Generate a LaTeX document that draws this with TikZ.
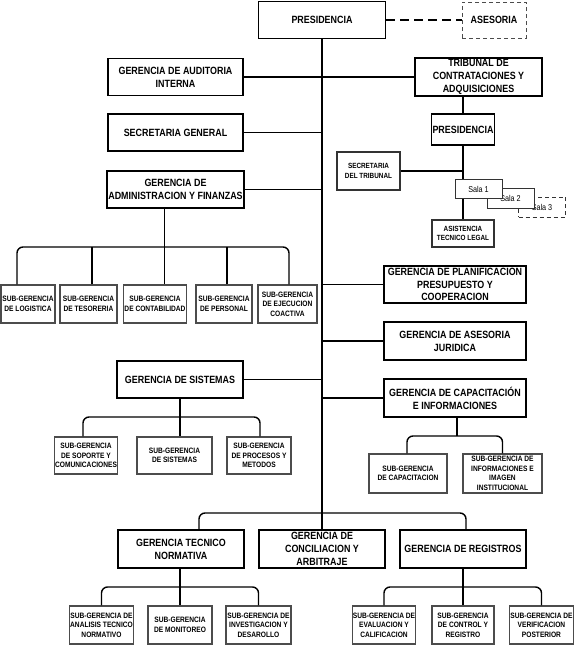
\documentclass[tikz,border=0pt]{standalone}
\usepackage{fontspec}
\setmainfont{Liberation Sans}[FakeStretch=0.85]
\usetikzlibrary{positioning,calc}

\begin{document}
\begin{tikzpicture}[
    x=1pt, y=-1pt,
    wh/.style 2 args={minimum width=#1pt, minimum height=#2pt},
    gerencia/.style={rectangle, draw, line width=1.7pt, fill=white, align=center, inner sep=1pt, font=\bfseries\fontsize{10.5}{12.8}\selectfont},
    tribox/.style={rectangle, draw=black!80, line width=1.2pt, fill=white, align=center, inner sep=1pt, font=\bfseries\fontsize{7.5}{9.7}\selectfont},
    salabox/.style={rectangle, draw=black!80, line width=1pt, fill=white, align=center, inner sep=1pt, font=\fontsize{8.5}{9}\selectfont},
    subger/.style={rectangle, draw=black!70, line width=1.1pt, fill=white, align=center, inner sep=0.5pt, font=\bfseries\fontsize{7.8}{9.6}\selectfont},
    line/.style={line width=1.4pt},
    bus/.style={line width=1.4pt, rounded corners=6pt},
    dashline/.style={line width=1.4pt, dash pattern=on 9pt off 5pt}
]
    \useasboundingbox (0,0) rectangle (574,645);

    % Top
    \node[gerencia, wh={127}{37}] (pres) at (322,20) {PRESIDENCIA};
    \node[gerencia, wh={64}{36}, draw=black!70, line width=1pt, dash pattern=on 4pt off 3pt] (ases) at (494,20) {ASESORIA};

    % Left staff offices
    \node[gerencia, wh={135}{37}] (audit) at (175.5,77) {GERENCIA DE AUDITORIA\\INTERNA};
    \node[gerencia, wh={135}{37}] (secgen) at (175.5,132.5) {SECRETARIA GENERAL};
    \node[gerencia, wh={135}{37}] (admin) at (175.5,189.5) {GERENCIA DE\\ADMINISTRACION Y FINANZAS};

    % Tribunal
    \node[gerencia, wh={127}{38}] (trib) at (478.5,77) {TRIBUNAL DE\\CONTRATACIONES Y\\ADQUISICIONES};
    \node[gerencia, wh={62}{31}, line width=1.2pt] (tpres) at (463,129.5) {PRESIDENCIA};
    \node[tribox, wh={63}{38}] (sectrib) at (368.5,171) {SECRETARIA\\DEL TRIBUNAL};
    \node[tribox, wh={62}{27}] (asist) at (463,233.5) {ASISTENCIA\\TECNICO LEGAL};

    % Sub-gerencias of administracion
    \node[subger, wh={54}{38}] (slog) at (28,304) {SUB-GERENCIA\\DE LOGISTICA};
    \node[subger, wh={57}{38}] (stes) at (88.5,304) {SUB-GERENCIA\\DE TESORERIA};
    \node[subger, wh={63}{38}] (scont) at (155,304) {SUB-GERENCIA\\DE CONTABILIDAD};
    \node[subger, wh={56}{38}] (spers) at (224,304) {SUB-GERENCIA\\DE PERSONAL};
    \node[subger, wh={59}{38}] (sejec) at (287.5,304) {SUB-GERENCIA\\DE EJECUCION\\COACTIVA};

    % Right line offices
    \node[gerencia, wh={142}{37}] (plan) at (455,284.5) {GERENCIA DE PLANIFICACION\\PRESUPUESTO Y\\COOPERACION};
    \node[gerencia, wh={142}{38}] (jur) at (455,341) {GERENCIA DE ASESORIA\\JURIDICA};
    \node[gerencia, wh={142}{38}] (capac) at (455,398) {GERENCIA DE CAPACITACIÓN\\E INFORMACIONES};
    \node[subger, wh={78}{39}] (scap) at (408,473.5) {SUB-GERENCIA\\DE CAPACITACION};
    \node[subger, wh={79}{39}] (sinf) at (502.5,473.5) {SUB-GERENCIA DE\\INFORMACIONES E\\IMAGEN\\INSTITUCIONAL};

    % Sistemas
    \node[gerencia, wh={126}{37}] (sist) at (180,379.5) {GERENCIA DE SISTEMAS};
    \node[subger, wh={62}{37}] (ssop) at (86,455.5) {SUB-GERENCIA\\DE SOPORTE Y\\COMUNICACIONES};
    \node[subger, wh={75}{37}] (ssis) at (174.5,455.5) {SUB-GERENCIA\\DE SISTEMAS};
    \node[subger, wh={64}{37}] (sproc) at (259,455.5) {SUB-GERENCIA\\DE PROCESOS Y\\METODOS};

    % Bottom row
    \node[gerencia, wh={126}{38}] (tecn) at (181,549) {GERENCIA TECNICO\\NORMATIVA};
    \node[gerencia, wh={126}{38}] (conc) at (322,549) {GERENCIA DE\\CONCILIACION Y\\ARBITRAJE};
    \node[gerencia, wh={126}{38}] (regi) at (463,549) {GERENCIA DE REGISTROS};
    \node[subger, wh={63}{38}] (sana) at (101.5,625) {SUB-GERENCIA DE\\ANALISIS TECNICO\\NORMATIVO};
    \node[subger, wh={64}{38}] (smon) at (180,625) {SUB-GERENCIA\\DE MONITOREO};
    \node[subger, wh={65}{38}] (sinv) at (258.5,625) {SUB-GERENCIA DE\\INVESTIGACION Y\\DESAROLLO};
    \node[subger, wh={62}{38}] (seva) at (384,625) {SUB-GERENCIA DE\\EVALUACION Y\\CALIFICACION};
    \node[subger, wh={62}{38}] (sctl) at (463,625) {SUB-GERENCIA\\DE CONTROL Y\\REGISTRO};
    \node[subger, wh={63}{38}] (sver) at (541.5,625) {SUB-GERENCIA DE\\VERIFICACION\\POSTERIOR};

    % Bus points
    \coordinate (adminbus) at (164,247);
    \coordinate (sistbus) at (180,417);
    \coordinate (capbus) at (457,436);
    \coordinate (botbus) at (322,513);
    \coordinate (tecbus) at (180,587);
    \coordinate (regbus) at (463,587);

    % Trunk and branches
    \draw[line] (pres.south) -- (conc.north);
    \draw[dashline] (pres.east) -- (ases.west);
    \draw[line] (audit.east) -- (trib.west);
    \draw[line] (secgen.east) -- (secgen.east -| pres.south);
    \draw[line] (admin.east) -- (admin.east -| pres.south);
    \draw[line] (plan.west) -- (plan.west -| pres.south);
    \draw[line] (jur.west) -- (jur.west -| pres.south);
    \draw[line] (capac.west) -- (capac.west -| pres.south);
    \draw[line] (sist.east) -- (sist.east -| pres.south);

    % Tribunal lines
    \draw[line] (tpres.north) -- (tpres.north |- trib.south);
    \draw[line] (tpres.south) -- (asist.north);
    \draw[line] (sectrib.east) -- (sectrib.east -| tpres.south);
    \node[salabox, wh={47}{20}, dash pattern=on 4pt off 3pt] (sala3) at (542,207) {Sala 3};
    \node[salabox, wh={47}{20}] (sala2) at (510.5,198) {Sala 2};
    \node[salabox, wh={47}{19}] (sala1) at (478.5,189) {Sala 1};

    % Administracion buses
    \draw[line] ([xshift=-11pt]admin.south) -- ([xshift=9.5pt]scont.north);
    \draw[bus] ([xshift=-11pt]slog.north) |- (adminbus) -| ([xshift=1.5pt]sejec.north);
    \draw[line] ([xshift=3.5pt]stes.north) -- ([xshift=3.5pt]stes.north |- adminbus);
    \draw[line] ([xshift=3pt]spers.north) -- ([xshift=3pt]spers.north |- adminbus);

    % Sistemas buses
    \draw[line] (sist.south) -- ([xshift=5.5pt]ssis.north);
    \draw[bus] ([xshift=-3pt]ssop.north) |- (sistbus) -| ([xshift=1pt]sproc.north);

    % Capacitacion buses
    \draw[line] ([xshift=2pt]capac.south) -- (capbus);
    \draw[bus] ([xshift=-1pt]scap.north) |- (capbus) -| (sinf.north);

    % Bottom buses
    \draw[bus] ([xshift=18pt]tecn.north) |- (botbus) -| ([xshift=3pt]regi.north);
    \draw[line] ([xshift=-1pt]tecn.south) -- (smon.north);
    \draw[bus] (sana.north) |- (tecbus) -| (sinv.north);
    \draw[line] (regi.south) -- (sctl.north);
    \draw[bus] (seva.north) |- (regbus) -| (sver.north);
\end{tikzpicture}
\end{document}
